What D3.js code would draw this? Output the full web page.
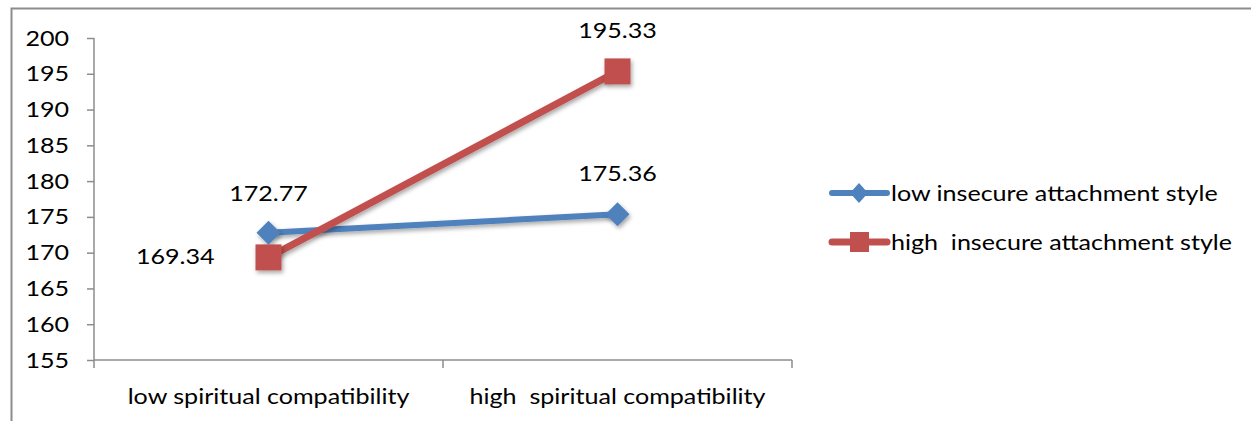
<!DOCTYPE html>
<html><head><meta charset="utf-8">
<script src="https://cdn.jsdelivr.net/npm/d3@7"></script>
<style>body{margin:0;background:#fff}svg{display:block}text{font-family:Lato,"Open Sans",sans-serif;fill:#000}</style>
</head><body><svg id="c" width="1251" height="421"></svg>
<script>
const categories = ["low spiritual compatibility", "high  spiritual compatibility"];
const seriesNames = ["low insecure attachment style", "high  insecure attachment style"];
const lowInsecure = [172.77, 175.36];
const highInsecure = [169.34, 195.33];
const yTicks = [155,160,165,170,175,180,185,190,195,200];
const colors = ["#4F81BD", "#C0504D"];
const FS = 22, SX = 1.14;

const svg = d3.select("#c");
const defs = svg.append("defs");
const f = defs.append("filter").attr("id","sh").attr("x","-50%").attr("y","-50%").attr("width","200%").attr("height","200%");
f.append("feDropShadow").attr("dx",1.5).attr("dy",2.5).attr("stdDeviation",2).attr("flood-color","#000").attr("flood-opacity",0.35);

// frame
svg.append("path").attr("d","M11.5,421 L11.5,8.5 L1251,8.5").attr("fill","none").attr("stroke","#8c8c8c").attr("stroke-width",2);

const x = d3.scaleBand().domain(categories).range([94,792]);
const y = d3.scaleLinear().domain([155,200]).range([360,38]);

// y axis
const ya = svg.append("g").attr("transform","translate(94,0)")
  .call(d3.axisLeft(y).tickValues(yTicks).tickSize(7).tickPadding(18).tickFormat(d3.format("d")));
ya.select(".domain").attr("stroke","#8c8c8c").attr("stroke-width",1.5).attr("d","M0,38V360");
ya.selectAll(".tick line").attr("stroke","#8c8c8c").attr("stroke-width",1.5);
ya.selectAll(".tick text").attr("font-size",FS).style("font-family","Lato,sans-serif")
  .attr("x",-25/SX).attr("transform",`scale(${SX},1)`);

// x axis
const xa = svg.append("g").attr("transform","translate(0,360)")
  .call(d3.axisBottom(x).tickSize(0).tickPadding(28));
xa.select(".domain").attr("stroke","#8c8c8c").attr("stroke-width",1.5).attr("d","M94,0H792");
xa.selectAll(".tick text").attr("font-size",FS).style("font-family","Lato,sans-serif").attr("xml:space","preserve")
  .attr("transform",`scale(${SX},1)`);
const bounds = [94, 94 + x.step(), 792];
xa.selectAll(".xt").data(bounds).enter().append("line").attr("class","xt")
  .attr("x1",d=>d).attr("x2",d=>d).attr("y1",0).attr("y2",8).attr("stroke","#8c8c8c").attr("stroke-width",1.5);

const cx = c => x(c) + x.bandwidth()/2;
const series = [lowInsecure, highInsecure];
const line = d3.line().x((d,i)=>cx(categories[i])).y(d=>y(d));

series.forEach((vals,si)=>{
  const g = svg.append("g");
  g.append("path").attr("d",line(vals)).attr("fill","none").attr("stroke",colors[si])
    .attr("stroke-width", si===0?6:7).attr("stroke-linecap","round").attr("filter","url(#sh)");
  vals.forEach((v,i)=>{
    const px = cx(categories[i]), py = y(v);
    if (si===0) {
      g.append("path").attr("d",`M${px},${py-12}L${px+12},${py}L${px},${py+12}L${px-12},${py}Z`).attr("fill",colors[0]).attr("filter","url(#sh)");
    } else {
      g.append("rect").attr("x",px-13).attr("y",py-13).attr("width",26).attr("height",26).attr("fill",colors[1]).attr("filter","url(#sh)");
    }
  });
});

// data labels
const labels = [
  {v: lowInsecure[0], i:0, dx:0, dy:-32, anchor:"middle"},
  {v: lowInsecure[1], i:1, dx:0, dy:-33, anchor:"middle"},
  {v: highInsecure[0], i:0, dx:-54, dy:7, anchor:"end"},
  {v: highInsecure[1], i:1, dx:0, dy:-33, anchor:"middle"}
];
svg.selectAll(".dl").data(labels).enter().append("text").attr("class","dl")
  .attr("transform",d=>`translate(${cx(categories[d.i])+d.dx},${y(d.v)+d.dy}) scale(${SX},1)`)
  .attr("text-anchor",d=>d.anchor).attr("font-size",FS).text(d=>d.v.toFixed(2));

// legend
const lg = svg.append("g");
seriesNames.forEach((n,i)=>{
  const ly = 193 + i*49;
  lg.append("line").attr("x1",832).attr("x2",887).attr("y1",ly).attr("y2",ly).attr("stroke",colors[i]).attr("stroke-width",i===0?6:7).attr("stroke-linecap","round");
  if (i===0) lg.append("path").attr("d",`M859,${ly-10}L868,${ly}L859,${ly+10}L850,${ly}Z`).attr("fill",colors[0]);
  else lg.append("rect").attr("x",850).attr("y",ly-10).attr("width",19).attr("height",20).attr("fill",colors[1]);
  lg.append("text").attr("transform",`translate(891,${ly+8}) scale(${SX},1)`).attr("font-size",FS).attr("xml:space","preserve").text(n);
});
</script></body></html>
